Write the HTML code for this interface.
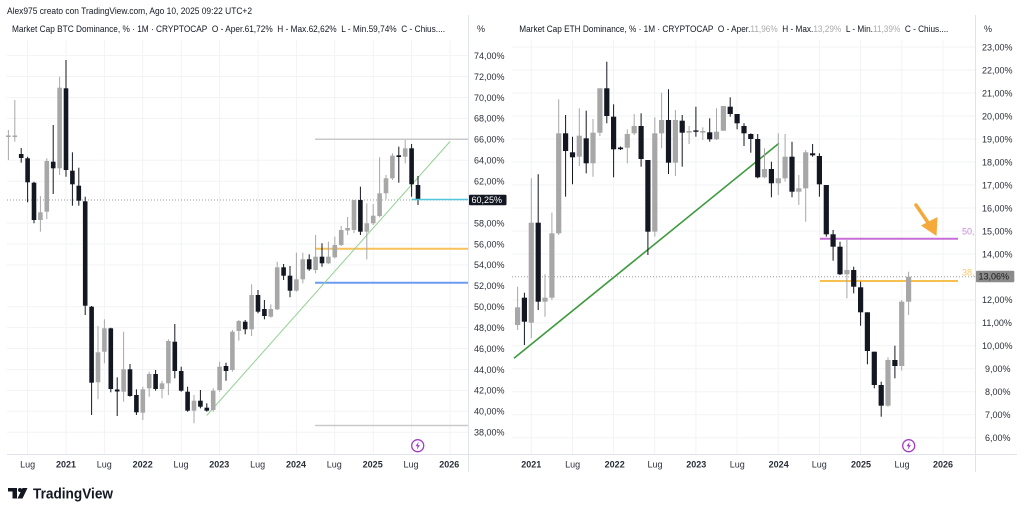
<!DOCTYPE html>
<html><head><meta charset="utf-8"><style>
html,body{margin:0;padding:0;background:#fff;}
svg{display:block;}
text{font-family:"Liberation Sans",sans-serif;}
.b{fill:#131722;}
.g{fill:#a7a7a7;}
.wb{stroke:#131722;stroke-width:1;}
.wg{stroke:#a7a7a7;stroke-width:1;}
.grid{stroke:#f2f3f5;stroke-width:1;}
.yl{font-size:9px;fill:#2a2e39;}
.xl{font-size:9px;fill:#2a2e39;}
.xy{font-size:9px;fill:#2a2e39;font-weight:bold;}
</style></head><body>
<svg width="1024" height="513" viewBox="0 0 1024 513" xmlns="http://www.w3.org/2000/svg">
<rect width="1024" height="513" fill="#fff"/>

<!-- grid left -->
<g class="grid">
<line x1="27.6" y1="40" x2="27.6" y2="454"/><line x1="66" y1="40" x2="66" y2="454"/><line x1="104.4" y1="40" x2="104.4" y2="454"/><line x1="142.8" y1="40" x2="142.8" y2="454"/><line x1="181.2" y1="40" x2="181.2" y2="454"/><line x1="219.6" y1="40" x2="219.6" y2="454"/><line x1="258" y1="40" x2="258" y2="454"/><line x1="296.4" y1="40" x2="296.4" y2="454"/><line x1="334.8" y1="40" x2="334.8" y2="454"/><line x1="373.2" y1="40" x2="373.2" y2="454"/><line x1="411.6" y1="40" x2="411.6" y2="454"/><line x1="450" y1="40" x2="450" y2="454"/>
<line x1="7" y1="55.6" x2="468" y2="55.6"/><line x1="7" y1="76.5" x2="468" y2="76.5"/><line x1="7" y1="97.5" x2="468" y2="97.5"/><line x1="7" y1="118.4" x2="468" y2="118.4"/><line x1="7" y1="160.2" x2="468" y2="160.2"/><line x1="7" y1="181.2" x2="468" y2="181.2"/><line x1="7" y1="223" x2="468" y2="223"/><line x1="7" y1="244" x2="468" y2="244"/><line x1="7" y1="264.9" x2="468" y2="264.9"/><line x1="7" y1="306.7" x2="468" y2="306.7"/><line x1="7" y1="327.6" x2="468" y2="327.6"/><line x1="7" y1="348.6" x2="468" y2="348.6"/><line x1="7" y1="369.5" x2="468" y2="369.5"/><line x1="7" y1="390.4" x2="468" y2="390.4"/><line x1="7" y1="411.3" x2="468" y2="411.3"/><line x1="7" y1="432.3" x2="468" y2="432.3"/>
</g>
<!-- grid right -->
<g class="grid">
<line x1="531.3" y1="40" x2="531.3" y2="454"/><line x1="572.5" y1="40" x2="572.5" y2="454"/><line x1="613.6" y1="40" x2="613.6" y2="454"/><line x1="654.8" y1="40" x2="654.8" y2="454"/><line x1="695.9" y1="40" x2="695.9" y2="454"/><line x1="737.1" y1="40" x2="737.1" y2="454"/><line x1="778.3" y1="40" x2="778.3" y2="454"/><line x1="819.4" y1="40" x2="819.4" y2="454"/><line x1="860.6" y1="40" x2="860.6" y2="454"/><line x1="901.7" y1="40" x2="901.7" y2="454"/><line x1="942.9" y1="40" x2="942.9" y2="454"/>
<line x1="512" y1="47.1" x2="975" y2="47.1"/><line x1="512" y1="70.1" x2="975" y2="70.1"/><line x1="512" y1="93" x2="975" y2="93"/><line x1="512" y1="116" x2="975" y2="116"/><line x1="512" y1="139" x2="975" y2="139"/><line x1="512" y1="162" x2="975" y2="162"/><line x1="512" y1="185" x2="975" y2="185"/><line x1="512" y1="208" x2="975" y2="208"/><line x1="512" y1="231" x2="975" y2="231"/><line x1="512" y1="254" x2="975" y2="254"/><line x1="512" y1="299.9" x2="975" y2="299.9"/><line x1="512" y1="322.9" x2="975" y2="322.9"/><line x1="512" y1="345.8" x2="975" y2="345.8"/><line x1="512" y1="368.8" x2="975" y2="368.8"/><line x1="512" y1="391.8" x2="975" y2="391.8"/><line x1="512" y1="414.8" x2="975" y2="414.8"/><line x1="512" y1="437.7" x2="975" y2="437.7"/>
</g>

<!-- separators & axis lines -->
<line x1="468.5" y1="15" x2="468.5" y2="472" stroke="#e0e3eb" stroke-width="1"/>
<line x1="975.5" y1="15" x2="975.5" y2="472" stroke="#e0e3eb" stroke-width="1"/>
<line x1="7" y1="454.5" x2="1017" y2="454.5" stroke="#e0e3eb" stroke-width="1"/>

<!-- dotted price lines -->
<line x1="7" y1="200" x2="468" y2="200" stroke="#9a9a9a" stroke-width="1" stroke-dasharray="1,2"/>
<line x1="512" y1="276.7" x2="975" y2="276.7" stroke="#9a9a9a" stroke-width="1" stroke-dasharray="1,2"/>

<!-- left drawings -->
<line x1="315" y1="139.3" x2="468" y2="139.3" stroke="#c9c9c9" stroke-width="1.5"/>
<line x1="315" y1="425.5" x2="468" y2="425.5" stroke="#c9c9c9" stroke-width="1.5"/>
<line x1="315" y1="248.7" x2="468" y2="248.7" stroke="#f7c25a" stroke-width="2"/>
<line x1="315" y1="282.7" x2="468" y2="282.7" stroke="#6b9cf0" stroke-width="2"/>
<line x1="206.7" y1="415.5" x2="450" y2="141.5" stroke="#93d193" stroke-width="1"/>

<!-- left candles -->
<g>
<line class="wg" x1="8.4" y1="130" x2="8.4" y2="160"/><rect class="g" x="6.1" y="135.5" width="4.6" height="1.5"/>
<line class="wg" x1="14.8" y1="100" x2="14.8" y2="141.7"/><rect class="g" x="12.5" y="135.5" width="4.6" height="1.5"/>
<line class="wb" x1="21.2" y1="148" x2="21.2" y2="162.7"/><rect class="b" x="18.9" y="154" width="4.6" height="4"/>
<line class="wb" x1="27.6" y1="156.7" x2="27.6" y2="202.3"/><rect class="b" x="25.3" y="158.3" width="4.6" height="24"/>
<line class="wb" x1="34" y1="181.7" x2="34" y2="223.3"/><rect class="b" x="31.7" y="182.7" width="4.6" height="37.3"/>
<line class="wg" x1="40.4" y1="196" x2="40.4" y2="231.7"/><rect class="g" x="38.1" y="212.3" width="4.6" height="7.7"/>
<line class="wg" x1="46.8" y1="158.3" x2="46.8" y2="219"/><rect class="g" x="44.5" y="161" width="4.6" height="50.7"/>
<line class="wb" x1="53.2" y1="125" x2="53.2" y2="194"/><rect class="b" x="50.9" y="161.7" width="4.6" height="6.6"/>
<line class="wg" x1="59.6" y1="76.7" x2="59.6" y2="175"/><rect class="g" x="57.3" y="87.7" width="4.6" height="80.6"/>
<line class="wb" x1="66" y1="60" x2="66" y2="176.7"/><rect class="b" x="63.7" y="88.3" width="4.6" height="81.7"/>
<line class="wb" x1="72.4" y1="152.3" x2="72.4" y2="205.7"/><rect class="b" x="70.1" y="170.7" width="4.6" height="13.6"/>
<line class="wb" x1="78.8" y1="167.7" x2="78.8" y2="205.7"/><rect class="b" x="76.5" y="185.7" width="4.6" height="15"/>
<line class="wb" x1="85.2" y1="196.7" x2="85.2" y2="315"/><rect class="b" x="82.9" y="201.3" width="4.6" height="104.4"/>
<line class="wb" x1="91.6" y1="306" x2="91.6" y2="415"/><rect class="b" x="89.3" y="306.7" width="4.6" height="76"/>
<line class="wg" x1="98" y1="326" x2="98" y2="399.3"/><rect class="g" x="95.7" y="352.3" width="4.6" height="30"/>
<line class="wg" x1="104.4" y1="319.3" x2="104.4" y2="363.3"/><rect class="g" x="102.1" y="328.3" width="4.6" height="23.4"/>
<line class="wb" x1="110.8" y1="327.7" x2="110.8" y2="392.3"/><rect class="b" x="108.5" y="328.3" width="4.6" height="60.7"/>
<line class="wb" x1="117.2" y1="377.3" x2="117.2" y2="416"/><rect class="b" x="114.9" y="389.5" width="4.6" height="2"/>
<line class="wg" x1="123.6" y1="331.7" x2="123.6" y2="401.7"/><rect class="g" x="121.3" y="369.3" width="4.6" height="22.4"/>
<line class="wb" x1="130" y1="364" x2="130" y2="396.7"/><rect class="b" x="127.7" y="369.3" width="4.6" height="26.7"/>
<line class="wb" x1="136.4" y1="389.3" x2="136.4" y2="415"/><rect class="b" x="134.1" y="395" width="4.6" height="17.3"/>
<line class="wg" x1="142.8" y1="386.7" x2="142.8" y2="420"/><rect class="g" x="140.5" y="389.3" width="4.6" height="23.4"/>
<line class="wg" x1="149.2" y1="371.7" x2="149.2" y2="396.7"/><rect class="g" x="146.9" y="374" width="4.6" height="14.3"/>
<line class="wb" x1="155.6" y1="370" x2="155.6" y2="390.7"/><rect class="b" x="153.3" y="374" width="4.6" height="15"/>
<line class="wg" x1="162" y1="380.7" x2="162" y2="398.3"/><rect class="g" x="159.7" y="383.3" width="4.6" height="5.7"/>
<line class="wg" x1="168.4" y1="339.3" x2="168.4" y2="395"/><rect class="g" x="166.1" y="341" width="4.6" height="42.3"/>
<line class="wb" x1="174.8" y1="324" x2="174.8" y2="378.3"/><rect class="b" x="172.5" y="341.7" width="4.6" height="29.3"/>
<line class="wb" x1="181.2" y1="366.7" x2="181.2" y2="391.7"/><rect class="b" x="178.9" y="371" width="4.6" height="19.7"/>
<line class="wb" x1="187.6" y1="386.7" x2="187.6" y2="411.7"/><rect class="b" x="185.3" y="391.7" width="4.6" height="19"/>
<line class="wg" x1="194" y1="395" x2="194" y2="423.3"/><rect class="g" x="191.7" y="400.7" width="4.6" height="10"/>
<line class="wb" x1="200.4" y1="390" x2="200.4" y2="408.3"/><rect class="b" x="198.1" y="400.7" width="4.6" height="6"/>
<line class="wb" x1="206.8" y1="403.3" x2="206.8" y2="411.7"/><rect class="b" x="204.5" y="407.7" width="4.6" height="3"/>
<line class="wg" x1="213.2" y1="388.3" x2="213.2" y2="411.7"/><rect class="g" x="210.9" y="390.7" width="4.6" height="19.3"/>
<line class="wg" x1="219.6" y1="361.7" x2="219.6" y2="391.7"/><rect class="g" x="217.3" y="366.7" width="4.6" height="23.3"/>
<line class="wb" x1="226" y1="362.7" x2="226" y2="380.7"/><rect class="b" x="223.7" y="366" width="4.6" height="5"/>
<line class="wg" x1="232.4" y1="330" x2="232.4" y2="371.7"/><rect class="g" x="230.1" y="331.7" width="4.6" height="38.3"/>
<line class="wg" x1="238.8" y1="320" x2="238.8" y2="340.7"/><rect class="g" x="236.5" y="321" width="4.6" height="10"/>
<line class="wb" x1="245.2" y1="320" x2="245.2" y2="334.3"/><rect class="b" x="242.9" y="321.7" width="4.6" height="7.6"/>
<line class="wg" x1="251.6" y1="284.3" x2="251.6" y2="336"/><rect class="g" x="249.3" y="295" width="4.6" height="34.3"/>
<line class="wb" x1="258" y1="290" x2="258" y2="313.3"/><rect class="b" x="255.7" y="295" width="4.6" height="16.7"/>
<line class="wb" x1="264.4" y1="300" x2="264.4" y2="319.3"/><rect class="b" x="262.1" y="309" width="4.6" height="7"/>
<line class="wg" x1="270.8" y1="304.3" x2="270.8" y2="317.7"/><rect class="g" x="268.5" y="309" width="4.6" height="7.7"/>
<line class="wg" x1="277.2" y1="261.7" x2="277.2" y2="310"/><rect class="g" x="274.9" y="267.3" width="4.6" height="42"/>
<line class="wb" x1="283.6" y1="264" x2="283.6" y2="280"/><rect class="b" x="281.3" y="267.3" width="4.6" height="8.4"/>
<line class="wb" x1="290" y1="266" x2="290" y2="297.3"/><rect class="b" x="287.7" y="275.7" width="4.6" height="15"/>
<line class="wg" x1="296.4" y1="252.7" x2="296.4" y2="291.7"/><rect class="g" x="294.1" y="279.3" width="4.6" height="11.4"/>
<line class="wg" x1="302.8" y1="252.7" x2="302.8" y2="283.3"/><rect class="g" x="300.5" y="259.3" width="4.6" height="20"/>
<line class="wb" x1="309.2" y1="254.3" x2="309.2" y2="270.7"/><rect class="b" x="306.9" y="259.3" width="4.6" height="10"/>
<line class="wg" x1="315.6" y1="235" x2="315.6" y2="273.3"/><rect class="g" x="313.3" y="256.7" width="4.6" height="13.3"/>
<line class="wb" x1="322" y1="243.3" x2="322" y2="266.7"/><rect class="b" x="319.7" y="256.7" width="4.6" height="6.6"/>
<line class="wg" x1="328.4" y1="241.7" x2="328.4" y2="264"/><rect class="g" x="326.1" y="256.7" width="4.6" height="6.6"/>
<line class="wg" x1="334.8" y1="236.7" x2="334.8" y2="258.3"/><rect class="g" x="332.5" y="245" width="4.6" height="12.3"/>
<line class="wg" x1="341.2" y1="226" x2="341.2" y2="246"/><rect class="g" x="338.9" y="230" width="4.6" height="15"/>
<line class="wg" x1="347.6" y1="217" x2="347.6" y2="235"/><rect class="g" x="345.3" y="228" width="4.6" height="2.5"/>
<line class="wg" x1="354" y1="200" x2="354" y2="233"/><rect class="g" x="351.7" y="200" width="4.6" height="30"/>
<line class="wb" x1="360.4" y1="186.7" x2="360.4" y2="235"/><rect class="b" x="358.1" y="200" width="4.6" height="31.7"/>
<line class="wg" x1="366.8" y1="203.3" x2="366.8" y2="259.3"/><rect class="g" x="364.5" y="223.3" width="4.6" height="8.4"/>
<line class="wg" x1="373.2" y1="204" x2="373.2" y2="225"/><rect class="g" x="370.9" y="215.7" width="4.6" height="7.6"/>
<line class="wg" x1="379.6" y1="157.3" x2="379.6" y2="217.3"/><rect class="g" x="377.3" y="193.3" width="4.6" height="22.7"/>
<line class="wg" x1="386" y1="175" x2="386" y2="199.3"/><rect class="g" x="383.7" y="178.3" width="4.6" height="15"/>
<line class="wg" x1="392.4" y1="153.3" x2="392.4" y2="180"/><rect class="g" x="390.1" y="155.7" width="4.6" height="22.6"/>
<line class="wb" x1="398.8" y1="146.7" x2="398.8" y2="182.7"/><rect class="b" x="396.5" y="155.3" width="4.6" height="1.7"/>
<line class="wg" x1="405.2" y1="140" x2="405.2" y2="163.3"/><rect class="g" x="402.9" y="148.3" width="4.6" height="8.4"/>
<line class="wb" x1="411.6" y1="144" x2="411.6" y2="196.7"/><rect class="b" x="409.3" y="148.3" width="4.6" height="36"/>
<line class="wb" x1="418" y1="176" x2="418" y2="205"/><rect class="b" x="415.7" y="185" width="4.6" height="15"/>
</g>
<line x1="411.6" y1="199.5" x2="468" y2="199.5" stroke="#50c8dc" stroke-width="1.5"/>

<!-- right drawings -->
<line x1="514" y1="358.3" x2="779" y2="143.3" stroke="#3d9a3d" stroke-width="1.6"/>
<line x1="820" y1="238.7" x2="958" y2="238.7" stroke="#c56fd6" stroke-width="2"/>
<line x1="820" y1="281" x2="958" y2="281" stroke="#f5c04e" stroke-width="2"/>

<!-- right candles -->
<g>
<line class="wg" x1="517.6" y1="286.7" x2="517.6" y2="330"/><rect class="g" x="515" y="307.3" width="5.2" height="17.7"/>
<line class="wb" x1="524.4" y1="292.7" x2="524.4" y2="345"/><rect class="b" x="521.8" y="297.7" width="5.2" height="24"/>
<line class="wg" x1="531.3" y1="178.3" x2="531.3" y2="338.3"/><rect class="g" x="528.7" y="222.7" width="5.2" height="100"/>
<line class="wb" x1="538.2" y1="174.3" x2="538.2" y2="310"/><rect class="b" x="535.6" y="222.7" width="5.2" height="79"/>
<line class="wg" x1="545" y1="274.3" x2="545" y2="316.7"/><rect class="g" x="542.4" y="297.7" width="5.2" height="4"/>
<line class="wg" x1="551.9" y1="212.7" x2="551.9" y2="300"/><rect class="g" x="549.3" y="233.3" width="5.2" height="64.4"/>
<line class="wg" x1="558.7" y1="99.3" x2="558.7" y2="235"/><rect class="g" x="556.1" y="133.3" width="5.2" height="100"/>
<line class="wb" x1="565.6" y1="115" x2="565.6" y2="196.7"/><rect class="b" x="563" y="133.3" width="5.2" height="17.7"/>
<line class="wb" x1="572.5" y1="136.7" x2="572.5" y2="184.3"/><rect class="b" x="569.9" y="152.3" width="5.2" height="5"/>
<line class="wg" x1="579.3" y1="108.3" x2="579.3" y2="166"/><rect class="g" x="576.7" y="135.7" width="5.2" height="21"/>
<line class="wb" x1="586.2" y1="110.7" x2="586.2" y2="173.3"/><rect class="b" x="583.6" y="138.3" width="5.2" height="25"/>
<line class="wg" x1="593" y1="119" x2="593" y2="176.7"/><rect class="g" x="590.4" y="132.7" width="5.2" height="30.6"/>
<line class="wg" x1="599.9" y1="88.3" x2="599.9" y2="136"/><rect class="g" x="597.3" y="88.3" width="5.2" height="44.4"/>
<line class="wb" x1="606.8" y1="61.7" x2="606.8" y2="123.3"/><rect class="b" x="604.2" y="88.3" width="5.2" height="27.7"/>
<line class="wb" x1="613.6" y1="104.3" x2="613.6" y2="177.3"/><rect class="b" x="611" y="116.7" width="5.2" height="32.6"/>
<line class="wb" x1="620.5" y1="146.5" x2="620.5" y2="150"/><rect class="b" x="617.9" y="147.5" width="5.2" height="1.7"/>
<line class="wg" x1="627.3" y1="129.3" x2="627.3" y2="163.3"/><rect class="g" x="624.7" y="134" width="5.2" height="13.7"/>
<line class="wg" x1="634.2" y1="114" x2="634.2" y2="135"/><rect class="g" x="631.6" y="126" width="5.2" height="7.3"/>
<line class="wb" x1="641.1" y1="113.3" x2="641.1" y2="166.7"/><rect class="b" x="638.5" y="126" width="5.2" height="33"/>
<line class="wb" x1="647.9" y1="160" x2="647.9" y2="255"/><rect class="b" x="645.3" y="160" width="5.2" height="71.7"/>
<line class="wg" x1="654.8" y1="117.3" x2="654.8" y2="236.7"/><rect class="g" x="652.2" y="133.3" width="5.2" height="98.4"/>
<line class="wg" x1="661.6" y1="92.7" x2="661.6" y2="148.3"/><rect class="g" x="659" y="120" width="5.2" height="13.3"/>
<line class="wb" x1="668.5" y1="89.3" x2="668.5" y2="174"/><rect class="b" x="665.9" y="120" width="5.2" height="42.7"/>
<line class="wg" x1="675.4" y1="110" x2="675.4" y2="176"/><rect class="g" x="672.8" y="120" width="5.2" height="42.7"/>
<line class="wb" x1="682.2" y1="115" x2="682.2" y2="166.7"/><rect class="b" x="679.6" y="120.7" width="5.2" height="12"/>
<line class="wg" x1="689.1" y1="126" x2="689.1" y2="144"/><rect class="g" x="686.5" y="131" width="5.2" height="1.6"/>
<line class="wb" x1="695.9" y1="106.7" x2="695.9" y2="136.7"/><rect class="b" x="693.3" y="130.4" width="5.2" height="1.4"/>
<line class="wg" x1="702.8" y1="127.3" x2="702.8" y2="140"/><rect class="g" x="700.2" y="131" width="5.2" height="1.6"/>
<line class="wb" x1="709.7" y1="118.3" x2="709.7" y2="141.7"/><rect class="b" x="707.1" y="132.3" width="5.2" height="7"/>
<line class="wg" x1="716.5" y1="108.3" x2="716.5" y2="140"/><rect class="g" x="713.9" y="131.7" width="5.2" height="7.6"/>
<line class="wg" x1="723.4" y1="106" x2="723.4" y2="131"/><rect class="g" x="720.8" y="106" width="5.2" height="24.7"/>
<line class="wb" x1="730.2" y1="97.3" x2="730.2" y2="116.7"/><rect class="b" x="727.6" y="106.7" width="5.2" height="7.3"/>
<line class="wb" x1="737.1" y1="114" x2="737.1" y2="129.3"/><rect class="b" x="734.5" y="114" width="5.2" height="9.3"/>
<line class="wb" x1="744" y1="123.3" x2="744" y2="146"/><rect class="b" x="741.4" y="126" width="5.2" height="7.3"/>
<line class="wb" x1="750.8" y1="133.3" x2="750.8" y2="152.7"/><rect class="b" x="748.2" y="134" width="5.2" height="5"/>
<line class="wb" x1="757.7" y1="134" x2="757.7" y2="178.3"/><rect class="b" x="755.1" y="139" width="5.2" height="38.3"/>
<line class="wg" x1="764.5" y1="148.3" x2="764.5" y2="178.3"/><rect class="g" x="761.9" y="169" width="5.2" height="8.3"/>
<line class="wb" x1="771.4" y1="161.7" x2="771.4" y2="197.3"/><rect class="b" x="768.8" y="169" width="5.2" height="14.3"/>
<line class="wg" x1="778.3" y1="133.3" x2="778.3" y2="195"/><rect class="g" x="775.7" y="178.3" width="5.2" height="5"/>
<line class="wg" x1="785.1" y1="134" x2="785.1" y2="181.7"/><rect class="g" x="782.5" y="156.7" width="5.2" height="21.6"/>
<line class="wb" x1="792" y1="141.7" x2="792" y2="197.3"/><rect class="b" x="789.4" y="156.7" width="5.2" height="35"/>
<line class="wg" x1="798.8" y1="175" x2="798.8" y2="205"/><rect class="g" x="796.2" y="188.3" width="5.2" height="3.4"/>
<line class="wg" x1="805.7" y1="150" x2="805.7" y2="221.7"/><rect class="g" x="803.1" y="152.3" width="5.2" height="36"/>
<line class="wb" x1="812.6" y1="144" x2="812.6" y2="156.7"/><rect class="b" x="810" y="153.3" width="5.2" height="2"/>
<line class="wb" x1="819.4" y1="153.3" x2="819.4" y2="196.7"/><rect class="b" x="816.8" y="156" width="5.2" height="28.3"/>
<line class="wb" x1="826.3" y1="185" x2="826.3" y2="236.7"/><rect class="b" x="823.7" y="185" width="5.2" height="49.3"/>
<line class="wb" x1="833.1" y1="230" x2="833.1" y2="260.7"/><rect class="b" x="830.5" y="234.3" width="5.2" height="12.4"/>
<line class="wb" x1="840" y1="241.7" x2="840" y2="275"/><rect class="b" x="837.4" y="246.7" width="5.2" height="27.6"/>
<line class="wg" x1="846.9" y1="240" x2="846.9" y2="298.3"/><rect class="g" x="844.3" y="270" width="5.2" height="4.3"/>
<line class="wb" x1="853.7" y1="266.7" x2="853.7" y2="293.3"/><rect class="b" x="851.1" y="270" width="5.2" height="16.7"/>
<line class="wb" x1="860.6" y1="281.7" x2="860.6" y2="325.7"/><rect class="b" x="858" y="287.3" width="5.2" height="25"/>
<line class="wb" x1="867.4" y1="312.3" x2="867.4" y2="364.3"/><rect class="b" x="864.8" y="312.3" width="5.2" height="38.7"/>
<line class="wb" x1="874.3" y1="351.7" x2="874.3" y2="388.3"/><rect class="b" x="871.7" y="351.7" width="5.2" height="33.3"/>
<line class="wb" x1="881.2" y1="381.7" x2="881.2" y2="416.7"/><rect class="b" x="878.6" y="385" width="5.2" height="20.7"/>
<line class="wg" x1="888" y1="357.3" x2="888" y2="406.7"/><rect class="g" x="885.4" y="360" width="5.2" height="45.7"/>
<line class="wb" x1="894.9" y1="345.7" x2="894.9" y2="378.3"/><rect class="b" x="892.3" y="360" width="5.2" height="6"/>
<line class="wg" x1="901.7" y1="300" x2="901.7" y2="370.7"/><rect class="g" x="899.1" y="301.7" width="5.2" height="64.3"/>
<line class="wg" x1="908.6" y1="271.7" x2="908.6" y2="315"/><rect class="g" x="906" y="276.7" width="5.2" height="25"/>
</g>

<!-- orange arrow -->
<line x1="916" y1="205" x2="929" y2="224" stroke="#f5a93a" stroke-width="3.5" stroke-linecap="round"/>
<polygon points="921,225.5 937.5,217 936.5,236" fill="#f5a93a"/>
<text x="962" y="234.5" font-size="9" fill="#cc8ad9">50,</text>
<text x="962" y="275.5" font-size="9" fill="#f6c66c">38,</text>

<!-- price boxes -->
<rect x="469" y="194.7" width="37.5" height="10.5" rx="1" fill="#131722"/>
<text x="471.5" y="203" font-size="9" fill="#ffffff">60,25%</text>
<rect x="976" y="270.7" width="38.3" height="11.5" rx="1" fill="#8b8b8b"/>
<text x="978.5" y="279.6" font-size="9" fill="#1a1a1a">13,06%</text>

<!-- header -->
<text x="7" y="14" font-size="9.6" fill="#131722" textLength="245" lengthAdjust="spacingAndGlyphs">Alex975 creato con TradingView.com, Ago 10, 2025 09:22 UTC+2</text>
<text x="12" y="32" font-size="9.3" fill="#131722" textLength="433" lengthAdjust="spacingAndGlyphs">Market Cap BTC Dominance, % · 1M · CRYPTOCAP&#160; O - Aper.61,72%&#160; H - Max.62,62%&#160; L - Min.59,74%&#160; C - Chius....</text>
<text x="519.3" y="32" font-size="9.3" fill="#131722" textLength="429" lengthAdjust="spacingAndGlyphs">Market Cap ETH Dominance, % · 1M · CRYPTOCAP&#160; O - Aper.<tspan fill="#aaaaaa">11,96%</tspan>&#160; H - Max.<tspan fill="#aaaaaa">13,29%</tspan>&#160; L - Min.<tspan fill="#aaaaaa">11,39%</tspan>&#160; C - Chius....</text>
<text x="477" y="32" font-size="9" fill="#2a2e39">%</text>
<text x="984" y="32" font-size="9" fill="#2a2e39">%</text>

<!-- left y labels -->
<g class="yl">
<text x="474" y="58.9">74,00%</text><text x="474" y="79.8">72,00%</text><text x="474" y="100.8">70,00%</text><text x="474" y="121.7">68,00%</text><text x="474" y="142.6">66,00%</text><text x="474" y="163.5">64,00%</text><text x="474" y="184.5">62,00%</text><text x="474" y="226.3">58,00%</text><text x="474" y="247.3">56,00%</text><text x="474" y="268.2">54,00%</text><text x="474" y="289.1">52,00%</text><text x="474" y="310">50,00%</text><text x="474" y="330.9">48,00%</text><text x="474" y="351.9">46,00%</text><text x="474" y="372.8">44,00%</text><text x="474" y="393.7">42,00%</text><text x="474" y="414.6">40,00%</text><text x="474" y="435.6">38,00%</text>
</g>
<!-- right y labels -->
<g class="yl">
<text x="982" y="50.4">23,00%</text><text x="982" y="73.4">22,00%</text><text x="982" y="96.3">21,00%</text><text x="982" y="119.3">20,00%</text><text x="982" y="142.3">19,00%</text><text x="982" y="165.3">18,00%</text><text x="982" y="188.3">17,00%</text><text x="982" y="211.3">16,00%</text><text x="982" y="234.3">15,00%</text><text x="982" y="257.3">14,00%</text><text x="982" y="303.2">12,00%</text><text x="982" y="326.2">11,00%</text><text x="982" y="349.1">10,00%</text><text x="985" y="372.1">9,00%</text><text x="985" y="395.1">8,00%</text><text x="985" y="418.1">7,00%</text><text x="985" y="441">6,00%</text>
</g>

<!-- x labels -->
<g text-anchor="middle">
<text class="xl" x="27.7" y="467.5">Lug</text><text class="xy" x="66" y="467.5">2021</text><text class="xl" x="104.3" y="467.5">Lug</text><text class="xy" x="142.7" y="467.5">2022</text><text class="xl" x="181" y="467.5">Lug</text><text class="xy" x="219.3" y="467.5">2023</text><text class="xl" x="257.7" y="467.5">Lug</text><text class="xy" x="296" y="467.5">2024</text><text class="xl" x="334.3" y="467.5">Lug</text><text class="xy" x="372.7" y="467.5">2025</text><text class="xl" x="411" y="467.5">Lug</text><text class="xy" x="449.3" y="467.5">2026</text>
<text class="xy" x="531.3" y="467.5">2021</text><text class="xl" x="572.7" y="467.5">Lug</text><text class="xy" x="614.7" y="467.5">2022</text><text class="xl" x="655" y="467.5">Lug</text><text class="xy" x="696.3" y="467.5">2023</text><text class="xl" x="737.3" y="467.5">Lug</text><text class="xy" x="778.7" y="467.5">2024</text><text class="xl" x="819.3" y="467.5">Lug</text><text class="xy" x="861" y="467.5">2025</text><text class="xl" x="902" y="467.5">Lug</text><text class="xy" x="943" y="467.5">2026</text>
</g>

<!-- lightning icons -->
<g fill="none" stroke="#a23bc4" stroke-width="1.3">
<circle cx="417.7" cy="445.7" r="6"/>
<circle cx="908.7" cy="445.7" r="6"/>
</g>
<g fill="#a23bc4">
<polygon points="418.8,441.5 415.5,446.3 417.6,446.3 416.6,450 419.9,445.1 417.8,445.1"/>
<polygon points="909.8,441.5 906.5,446.3 908.6,446.3 907.6,450 910.9,445.1 908.8,445.1"/>
</g>

<!-- TradingView logo -->
<g fill="#131722">
<rect x="8" y="488" width="9" height="3.5"/>
<rect x="12.5" y="488" width="4.5" height="10.5"/>
<circle cx="20" cy="490" r="2"/>
<polygon points="22.5,488 27.5,488 22.5,498.5 17.5,498.5"/>
</g>
<text x="33" y="498.5" font-size="15" font-weight="bold" fill="#131722" textLength="80" lengthAdjust="spacingAndGlyphs">TradingView</text>
</svg>
</body></html>
